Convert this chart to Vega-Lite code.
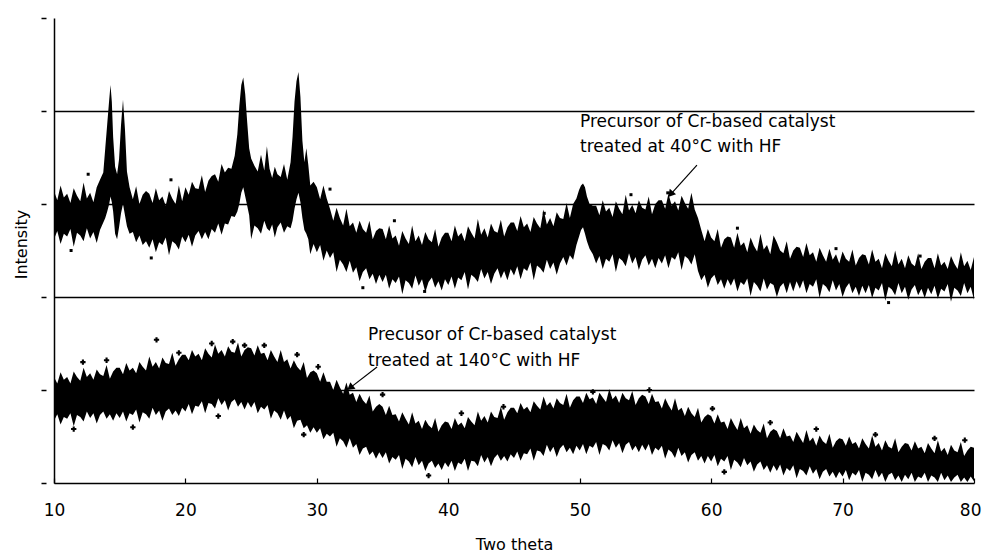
{
  "$schema": "https://vega.github.io/schema/vega-lite/v6.json",
  "width": 920,
  "height": 465,
  "autosize": "none",
  "padding": {"left": 54, "top": 18, "right": 8, "bottom": 72},
  "background": "white",
  "config": {"view": {"stroke": null}, "font": "DejaVu Sans"},
  "datasets": {
    "up": [
      {"x":10.0,"lo":262,"hi":314},{"x":10.25,"lo":271,"hi":304},{"x":10.5,"lo":257,"hi":320},{"x":10.75,"lo":268,"hi":307},
      {"x":11.0,"lo":265,"hi":311},{"x":11.25,"lo":273,"hi":301},{"x":11.5,"lo":254,"hi":317},{"x":11.75,"lo":269,"hi":309},
      {"x":12.0,"lo":266,"hi":303},{"x":12.25,"lo":260,"hi":323},{"x":12.5,"lo":274,"hi":306},{"x":12.75,"lo":263,"hi":312},
      {"x":13.0,"lo":270,"hi":302},{"x":13.25,"lo":258,"hi":318},{"x":13.5,"lo":272,"hi":326},{"x":13.75,"lo":280,"hi":334},
      {"x":13.9,"lo":285,"hi":360},{"x":14.05,"lo":292,"hi":386},{"x":14.2,"lo":300,"hi":412},{"x":14.3,"lo":308,"hi":428},
      {"x":14.4,"lo":302,"hi":410},{"x":14.5,"lo":292,"hi":372},{"x":14.65,"lo":268,"hi":340},{"x":14.8,"lo":262,"hi":332},
      {"x":14.95,"lo":275,"hi":348},{"x":15.1,"lo":290,"hi":385},{"x":15.25,"lo":300,"hi":412},{"x":15.4,"lo":288,"hi":380},
      {"x":15.55,"lo":276,"hi":335},{"x":15.75,"lo":268,"hi":318},{"x":16.0,"lo":270,"hi":305},{"x":16.25,"lo":259,"hi":319},
      {"x":16.5,"lo":266,"hi":300},{"x":16.75,"lo":256,"hi":310},{"x":17.0,"lo":260,"hi":314},{"x":17.25,"lo":253,"hi":311},
      {"x":17.5,"lo":262,"hi":301},{"x":17.75,"lo":248,"hi":317},{"x":18.0,"lo":259,"hi":304},{"x":18.25,"lo":256,"hi":308},
      {"x":18.5,"lo":264,"hi":298},{"x":18.75,"lo":245,"hi":314},{"x":19.0,"lo":260,"hi":306},{"x":19.25,"lo":257,"hi":300},
      {"x":19.5,"lo":251,"hi":320},{"x":19.75,"lo":265,"hi":303},{"x":20.0,"lo":259,"hi":318},{"x":20.25,"lo":267,"hi":310},
      {"x":20.5,"lo":254,"hi":324},{"x":20.75,"lo":266,"hi":317},{"x":21.0,"lo":271,"hi":316},{"x":21.25,"lo":262,"hi":331},
      {"x":21.5,"lo":270,"hi":313},{"x":21.75,"lo":262,"hi":325},{"x":22.0,"lo":273,"hi":330},{"x":22.25,"lo":269,"hi":332},
      {"x":22.5,"lo":279,"hi":324},{"x":22.75,"lo":267,"hi":343},{"x":23.0,"lo":279,"hi":334},{"x":23.25,"lo":278,"hi":339},
      {"x":23.5,"lo":287,"hi":338},{"x":23.75,"lo":286,"hi":352},{"x":23.95,"lo":292,"hi":375},{"x":24.1,"lo":300,"hi":405},
      {"x":24.25,"lo":312,"hi":428},{"x":24.4,"lo":318,"hi":436},{"x":24.55,"lo":308,"hi":418},{"x":24.7,"lo":298,"hi":388},
      {"x":24.85,"lo":288,"hi":360},{"x":25.0,"lo":262,"hi":349},{"x":25.25,"lo":277,"hi":341},{"x":25.5,"lo":274,"hi":335},
      {"x":25.75,"lo":268,"hi":353},{"x":26.0,"lo":282,"hi":336},{"x":26.2,"lo":274,"hi":362},{"x":26.4,"lo":271,"hi":338},
      {"x":26.6,"lo":278,"hi":328},{"x":26.8,"lo":264,"hi":340},{"x":27.0,"lo":275,"hi":332},{"x":27.25,"lo":280,"hi":329},
      {"x":27.5,"lo":269,"hi":343},{"x":27.75,"lo":276,"hi":326},{"x":28.0,"lo":274,"hi":345},{"x":28.15,"lo":282,"hi":372},
      {"x":28.3,"lo":295,"hi":410},{"x":28.45,"lo":305,"hi":432},{"x":28.6,"lo":312,"hi":442},{"x":28.75,"lo":302,"hi":415},
      {"x":28.9,"lo":285,"hi":368},{"x":29.05,"lo":272,"hi":345},{"x":29.2,"lo":268,"hi":360},{"x":29.35,"lo":262,"hi":342},
      {"x":29.5,"lo":246,"hi":320},{"x":29.75,"lo":257,"hi":324},{"x":30.0,"lo":248,"hi":318},{"x":30.25,"lo":256,"hi":305},
      {"x":30.5,"lo":239,"hi":320},{"x":30.75,"lo":250,"hi":306},{"x":31.0,"lo":242,"hi":295},{"x":31.25,"lo":248,"hi":282},
      {"x":31.5,"lo":227,"hi":296},{"x":31.75,"lo":240,"hi":285},{"x":32.0,"lo":235,"hi":277},{"x":32.25,"lo":227,"hi":295},
      {"x":32.5,"lo":239,"hi":276},{"x":32.75,"lo":226,"hi":280},{"x":33.0,"lo":232,"hi":269},{"x":33.25,"lo":217,"hi":282},
      {"x":33.5,"lo":227,"hi":273},{"x":33.75,"lo":231,"hi":269},{"x":34.0,"lo":219,"hi":282},{"x":34.25,"lo":225,"hi":262},
      {"x":34.5,"lo":214,"hi":271},{"x":34.75,"lo":224,"hi":274},{"x":35.0,"lo":216,"hi":273},{"x":35.25,"lo":224,"hi":262},
      {"x":35.5,"lo":209,"hi":277},{"x":35.75,"lo":219,"hi":263},{"x":36.0,"lo":215,"hi":266},{"x":36.25,"lo":222,"hi":255},
      {"x":36.5,"lo":203,"hi":271},{"x":36.75,"lo":218,"hi":263},{"x":37.0,"lo":215,"hi":257},{"x":37.25,"lo":209,"hi":277},
      {"x":37.5,"lo":223,"hi":260},{"x":37.75,"lo":212,"hi":266},{"x":38.0,"lo":219,"hi":256},{"x":38.25,"lo":205,"hi":270},
      {"x":38.5,"lo":216,"hi":262},{"x":38.75,"lo":221,"hi":259},{"x":39.0,"lo":210,"hi":273},{"x":39.25,"lo":217,"hi":254},
      {"x":39.5,"lo":207,"hi":264},{"x":39.75,"lo":219,"hi":269},{"x":40.0,"lo":213,"hi":269},{"x":40.25,"lo":222,"hi":260},
      {"x":40.5,"lo":209,"hi":277},{"x":40.75,"lo":221,"hi":265},{"x":41.0,"lo":218,"hi":269},{"x":41.25,"lo":227,"hi":260},
      {"x":41.5,"lo":208,"hi":276},{"x":41.75,"lo":224,"hi":269},{"x":42.0,"lo":221,"hi":263},{"x":42.25,"lo":216,"hi":284},
      {"x":42.5,"lo":230,"hi":267},{"x":42.75,"lo":220,"hi":274},{"x":43.0,"lo":227,"hi":264},{"x":43.25,"lo":214,"hi":279},
      {"x":43.5,"lo":225,"hi":271},{"x":43.75,"lo":231,"hi":269},{"x":44.0,"lo":220,"hi":283},{"x":44.25,"lo":228,"hi":265},
      {"x":44.5,"lo":218,"hi":275},{"x":44.75,"lo":230,"hi":280},{"x":45.0,"lo":223,"hi":280},{"x":45.25,"lo":233,"hi":271},
      {"x":45.5,"lo":219,"hi":287},{"x":45.75,"lo":231,"hi":275},{"x":46.0,"lo":228,"hi":279},{"x":46.25,"lo":237,"hi":270},
      {"x":46.5,"lo":218,"hi":286},{"x":46.75,"lo":234,"hi":279},{"x":47.0,"lo":231,"hi":274},{"x":47.25,"lo":226,"hi":294},
      {"x":47.5,"lo":240,"hi":278},{"x":47.75,"lo":230,"hi":285},{"x":48.0,"lo":237,"hi":276},{"x":48.25,"lo":224,"hi":291},
      {"x":48.5,"lo":236,"hi":285},{"x":48.75,"lo":243,"hi":284},{"x":49.0,"lo":234,"hi":301},{"x":49.25,"lo":245,"hi":285},
      {"x":49.5,"lo":240,"hi":300},{"x":49.75,"lo":256,"hi":306},{"x":49.95,"lo":265,"hi":315},{"x":50.1,"lo":272,"hi":320},
      {"x":50.25,"lo":275,"hi":322},{"x":50.4,"lo":268,"hi":318},{"x":50.55,"lo":260,"hi":308},{"x":50.75,"lo":252,"hi":300},
      {"x":51.0,"lo":246,"hi":298},{"x":51.25,"lo":236,"hi":298},{"x":51.5,"lo":244,"hi":288},{"x":51.75,"lo":230,"hi":304},
      {"x":52.0,"lo":241,"hi":292},{"x":52.25,"lo":238,"hi":296},{"x":52.5,"lo":246,"hi":286},{"x":52.75,"lo":227,"hi":303},
      {"x":53.0,"lo":242,"hi":295},{"x":53.25,"lo":239,"hi":289},{"x":53.5,"lo":233,"hi":310},{"x":53.75,"lo":247,"hi":293},
      {"x":54.0,"lo":236,"hi":299},{"x":54.25,"lo":243,"hi":290},{"x":54.5,"lo":229,"hi":304},{"x":54.75,"lo":240,"hi":296},
      {"x":55.0,"lo":245,"hi":294},{"x":55.25,"lo":234,"hi":308},{"x":55.5,"lo":241,"hi":289},{"x":55.75,"lo":231,"hi":300},
      {"x":56.0,"lo":242,"hi":304},{"x":56.25,"lo":236,"hi":304},{"x":56.5,"lo":245,"hi":295},{"x":56.75,"lo":231,"hi":311},
      {"x":57.0,"lo":243,"hi":298},{"x":57.25,"lo":240,"hi":303},{"x":57.5,"lo":248,"hi":293},{"x":57.75,"lo":229,"hi":309},
      {"x":58.0,"lo":244,"hi":301},{"x":58.25,"lo":241,"hi":295},{"x":58.5,"lo":235,"hi":312},{"x":58.75,"lo":246,"hi":294},
      {"x":59.0,"lo":228,"hi":285},{"x":59.25,"lo":218,"hi":272},{"x":59.5,"lo":224,"hi":260},{"x":59.75,"lo":210,"hi":273},
      {"x":60.0,"lo":220,"hi":264},{"x":60.25,"lo":224,"hi":260},{"x":60.5,"lo":213,"hi":273},{"x":60.75,"lo":219,"hi":253},
      {"x":61.0,"lo":209,"hi":262},{"x":61.25,"lo":219,"hi":265},{"x":61.5,"lo":212,"hi":264},{"x":61.75,"lo":220,"hi":253},
      {"x":62.0,"lo":206,"hi":269},{"x":62.25,"lo":216,"hi":255},{"x":62.5,"lo":213,"hi":259},{"x":62.75,"lo":220,"hi":248},
      {"x":63.0,"lo":201,"hi":264},{"x":63.25,"lo":216,"hi":255},{"x":63.5,"lo":212,"hi":249},{"x":63.75,"lo":206,"hi":268},
      {"x":64.0,"lo":220,"hi":251},{"x":64.25,"lo":208,"hi":256},{"x":64.5,"lo":215,"hi":246},{"x":64.75,"lo":213,"hi":266},
      {"x":65.0,"lo":200,"hi":259},{"x":65.25,"lo":211,"hi":250},{"x":65.5,"lo":215,"hi":247},{"x":65.75,"lo":204,"hi":260},
      {"x":66.0,"lo":216,"hi":241},{"x":66.25,"lo":206,"hi":250},{"x":66.5,"lo":217,"hi":254},{"x":66.75,"lo":209,"hi":253},
      {"x":67.0,"lo":218,"hi":243},{"x":67.25,"lo":204,"hi":258},{"x":67.5,"lo":214,"hi":245},{"x":67.75,"lo":211,"hi":248},
      {"x":68.0,"lo":219,"hi":238},{"x":68.25,"lo":199,"hi":253},{"x":68.5,"lo":214,"hi":245},{"x":68.75,"lo":211,"hi":238},
      {"x":69.0,"lo":205,"hi":252},{"x":69.25,"lo":218,"hi":240},{"x":69.5,"lo":207,"hi":246},{"x":69.75,"lo":214,"hi":236},
      {"x":70.0,"lo":200,"hi":249},{"x":70.25,"lo":210,"hi":241},{"x":70.5,"lo":215,"hi":238},{"x":70.75,"lo":204,"hi":251},
      {"x":71.0,"lo":211,"hi":234},{"x":71.25,"lo":201,"hi":242},{"x":71.5,"lo":212,"hi":246},{"x":71.75,"lo":204,"hi":245},
      {"x":72.0,"lo":213,"hi":235},{"x":72.25,"lo":199,"hi":251},{"x":72.5,"lo":210,"hi":238},{"x":72.75,"lo":207,"hi":241},
      {"x":73.0,"lo":215,"hi":231},{"x":73.25,"lo":196,"hi":247},{"x":73.5,"lo":211,"hi":239},{"x":73.75,"lo":208,"hi":233},
      {"x":74.0,"lo":202,"hi":250},{"x":74.25,"lo":215,"hi":235},{"x":74.5,"lo":204,"hi":241},{"x":74.75,"lo":211,"hi":231},
      {"x":75.0,"lo":197,"hi":245},{"x":75.25,"lo":208,"hi":236},{"x":75.5,"lo":213,"hi":233},{"x":75.75,"lo":202,"hi":247},
      {"x":76.0,"lo":209,"hi":230},{"x":76.25,"lo":199,"hi":238},{"x":76.5,"lo":210,"hi":242},{"x":76.75,"lo":203,"hi":242},
      {"x":77.0,"lo":212,"hi":231},{"x":77.25,"lo":198,"hi":247},{"x":77.5,"lo":209,"hi":234},{"x":77.75,"lo":206,"hi":238},
      {"x":78.0,"lo":214,"hi":230},{"x":78.25,"lo":195,"hi":244},{"x":78.5,"lo":210,"hi":236},{"x":78.75,"lo":207,"hi":230},
      {"x":79.0,"lo":201,"hi":248},{"x":79.25,"lo":215,"hi":233},{"x":79.5,"lo":204,"hi":239},{"x":79.75,"lo":211,"hi":229},
      {"x":80.0,"lo":197,"hi":243}
    ],
    "low": [
      {"x":10.0,"lo":67,"hi":114},{"x":10.25,"lo":74,"hi":107},{"x":10.5,"lo":63,"hi":119},{"x":10.75,"lo":71,"hi":111},
      {"x":11.0,"lo":69,"hi":114},{"x":11.25,"lo":75,"hi":107},{"x":11.5,"lo":61,"hi":120},{"x":11.75,"lo":73,"hi":114},
      {"x":12.0,"lo":71,"hi":110},{"x":12.25,"lo":66,"hi":124},{"x":12.5,"lo":77,"hi":114},{"x":12.75,"lo":70,"hi":118},
      {"x":13.0,"lo":75,"hi":111},{"x":13.25,"lo":64,"hi":122},{"x":13.5,"lo":73,"hi":117},{"x":13.75,"lo":77,"hi":115},
      {"x":14.0,"lo":69,"hi":127},{"x":14.25,"lo":74,"hi":112},{"x":14.5,"lo":67,"hi":120},{"x":14.75,"lo":75,"hi":124},
      {"x":15.0,"lo":70,"hi":124},{"x":15.25,"lo":77,"hi":117},{"x":15.5,"lo":66,"hi":129},{"x":15.75,"lo":75,"hi":121},
      {"x":16.0,"lo":73,"hi":124},{"x":16.25,"lo":79,"hi":118},{"x":16.5,"lo":65,"hi":130},{"x":16.75,"lo":76,"hi":125},
      {"x":17.0,"lo":74,"hi":121},{"x":17.25,"lo":69,"hi":136},{"x":17.5,"lo":81,"hi":125},{"x":17.75,"lo":73,"hi":130},
      {"x":18.0,"lo":78,"hi":123},{"x":18.25,"lo":67,"hi":135},{"x":18.5,"lo":77,"hi":129},{"x":18.75,"lo":80,"hi":128},
      {"x":19.0,"lo":73,"hi":140},{"x":19.25,"lo":78,"hi":126},{"x":19.5,"lo":72,"hi":133},{"x":19.75,"lo":81,"hi":138},
      {"x":20.0,"lo":77,"hi":138},{"x":20.25,"lo":85,"hi":132},{"x":20.5,"lo":74,"hi":143},{"x":20.75,"lo":83,"hi":136},
      {"x":21.0,"lo":82,"hi":139},{"x":21.25,"lo":88,"hi":132},{"x":21.5,"lo":75,"hi":145},{"x":21.75,"lo":86,"hi":139},
      {"x":22.0,"lo":85,"hi":135},{"x":22.25,"lo":80,"hi":149},{"x":22.5,"lo":91,"hi":139},{"x":22.75,"lo":84,"hi":143},
      {"x":23.0,"lo":89,"hi":136},{"x":23.25,"lo":78,"hi":147},{"x":23.5,"lo":87,"hi":141},{"x":23.75,"lo":90,"hi":140},
      {"x":24.0,"lo":82,"hi":151},{"x":24.25,"lo":87,"hi":136},{"x":24.5,"lo":79,"hi":143},{"x":24.75,"lo":87,"hi":146},
      {"x":25.0,"lo":81,"hi":145},{"x":25.25,"lo":87,"hi":137},{"x":25.5,"lo":75,"hi":148},{"x":25.75,"lo":82,"hi":139},
      {"x":26.0,"lo":79,"hi":140},{"x":26.25,"lo":84,"hi":132},{"x":26.5,"lo":69,"hi":143},{"x":26.75,"lo":78,"hi":136},
      {"x":27.0,"lo":75,"hi":130},{"x":27.25,"lo":68,"hi":143},{"x":27.5,"lo":78,"hi":130},{"x":27.75,"lo":68,"hi":133},
      {"x":28.0,"lo":72,"hi":123},{"x":28.25,"lo":59,"hi":132},{"x":28.5,"lo":67,"hi":125},{"x":28.75,"lo":68,"hi":121},
      {"x":29.0,"lo":59,"hi":130},{"x":29.25,"lo":62,"hi":113},{"x":29.5,"lo":54,"hi":119},{"x":29.75,"lo":60,"hi":121},
      {"x":30.0,"lo":54,"hi":118},{"x":30.25,"lo":59,"hi":109},{"x":30.5,"lo":47,"hi":119},{"x":30.75,"lo":53,"hi":109},
      {"x":31.0,"lo":50,"hi":109},{"x":31.25,"lo":54,"hi":100},{"x":31.5,"lo":39,"hi":111},{"x":31.75,"lo":48,"hi":103},
      {"x":32.0,"lo":45,"hi":96},{"x":32.25,"lo":38,"hi":108},{"x":32.5,"lo":48,"hi":95},{"x":32.75,"lo":38,"hi":97},
      {"x":33.0,"lo":42,"hi":87},{"x":33.25,"lo":30,"hi":96},{"x":33.5,"lo":37,"hi":89},{"x":33.75,"lo":39,"hi":85},
      {"x":34.0,"lo":30,"hi":94},{"x":34.25,"lo":34,"hi":77},{"x":34.5,"lo":26,"hi":82},{"x":34.75,"lo":33,"hi":85},
      {"x":35.0,"lo":27,"hi":82},{"x":35.25,"lo":33,"hi":73},{"x":35.5,"lo":21,"hi":83},{"x":35.75,"lo":28,"hi":73},
      {"x":36.0,"lo":25,"hi":74},{"x":36.25,"lo":30,"hi":66},{"x":36.5,"lo":15,"hi":76},{"x":36.75,"lo":26,"hi":69},
      {"x":37.0,"lo":23,"hi":63},{"x":37.25,"lo":17,"hi":76},{"x":37.5,"lo":28,"hi":64},{"x":37.75,"lo":19,"hi":67},
      {"x":38.0,"lo":24,"hi":58},{"x":38.25,"lo":13,"hi":68},{"x":38.5,"lo":21,"hi":62},{"x":38.75,"lo":24,"hi":59},
      {"x":39.0,"lo":16,"hi":70},{"x":39.25,"lo":21,"hi":55},{"x":39.5,"lo":14,"hi":62},{"x":39.75,"lo":22,"hi":66},
      {"x":40.0,"lo":17,"hi":65},{"x":40.25,"lo":24,"hi":58},{"x":40.5,"lo":13,"hi":70},{"x":40.75,"lo":22,"hi":62},
      {"x":41.0,"lo":20,"hi":65},{"x":41.25,"lo":26,"hi":59},{"x":41.5,"lo":13,"hi":71},{"x":41.75,"lo":24,"hi":66},
      {"x":42.0,"lo":23,"hi":62},{"x":42.25,"lo":18,"hi":77},{"x":42.5,"lo":30,"hi":67},{"x":42.75,"lo":22,"hi":72},
      {"x":43.0,"lo":28,"hi":65},{"x":43.25,"lo":18,"hi":77},{"x":43.5,"lo":27,"hi":71},{"x":43.75,"lo":31,"hi":70},
      {"x":44.0,"lo":24,"hi":82},{"x":44.25,"lo":29,"hi":68},{"x":44.5,"lo":23,"hi":76},{"x":44.75,"lo":31,"hi":81},
      {"x":45.0,"lo":27,"hi":81},{"x":45.25,"lo":34,"hi":75},{"x":45.5,"lo":24,"hi":86},{"x":45.75,"lo":32,"hi":79},
      {"x":46.0,"lo":31,"hi":82},{"x":46.25,"lo":37,"hi":76},{"x":46.5,"lo":24,"hi":88},{"x":46.75,"lo":35,"hi":83},
      {"x":47.0,"lo":34,"hi":79},{"x":47.25,"lo":29,"hi":93},{"x":47.5,"lo":41,"hi":83},{"x":47.75,"lo":33,"hi":87},
      {"x":48.0,"lo":39,"hi":80},{"x":48.25,"lo":28,"hi":91},{"x":48.5,"lo":37,"hi":86},{"x":48.75,"lo":41,"hi":84},
      {"x":49.0,"lo":33,"hi":96},{"x":49.25,"lo":38,"hi":81},{"x":49.5,"lo":31,"hi":89},{"x":49.75,"lo":40,"hi":93},
      {"x":50.0,"lo":35,"hi":93},{"x":50.25,"lo":42,"hi":86},{"x":50.5,"lo":31,"hi":97},{"x":50.75,"lo":40,"hi":90},
      {"x":51.0,"lo":38,"hi":92},{"x":51.25,"lo":44,"hi":85},{"x":51.5,"lo":30,"hi":97},{"x":51.75,"lo":42,"hi":92},
      {"x":52.0,"lo":40,"hi":87},{"x":52.25,"lo":35,"hi":101},{"x":52.5,"lo":46,"hi":90},{"x":52.75,"lo":38,"hi":94},
      {"x":53.0,"lo":43,"hi":86},{"x":53.25,"lo":32,"hi":97},{"x":53.5,"lo":41,"hi":91},{"x":53.75,"lo":44,"hi":89},
      {"x":54.0,"lo":35,"hi":99},{"x":54.25,"lo":40,"hi":84},{"x":54.5,"lo":33,"hi":91},{"x":54.75,"lo":41,"hi":95},
      {"x":55.0,"lo":35,"hi":93},{"x":55.25,"lo":42,"hi":85},{"x":55.5,"lo":30,"hi":96},{"x":55.75,"lo":38,"hi":87},
      {"x":56.0,"lo":35,"hi":88},{"x":56.25,"lo":40,"hi":80},{"x":56.5,"lo":26,"hi":91},{"x":56.75,"lo":36,"hi":84},
      {"x":57.0,"lo":33,"hi":78},{"x":57.25,"lo":27,"hi":91},{"x":57.5,"lo":38,"hi":78},{"x":57.75,"lo":29,"hi":81},
      {"x":58.0,"lo":33,"hi":72},{"x":58.25,"lo":22,"hi":82},{"x":58.5,"lo":30,"hi":75},{"x":58.75,"lo":33,"hi":71},
      {"x":59.0,"lo":24,"hi":81},{"x":59.25,"lo":29,"hi":65},{"x":59.5,"lo":21,"hi":71},{"x":59.75,"lo":29,"hi":74},
      {"x":60.0,"lo":23,"hi":72},{"x":60.25,"lo":30,"hi":64},{"x":60.5,"lo":18,"hi":74},{"x":60.75,"lo":26,"hi":65},
      {"x":61.0,"lo":23,"hi":66},{"x":61.25,"lo":29,"hi":58},{"x":61.5,"lo":14,"hi":70},{"x":61.75,"lo":25,"hi":63},
      {"x":62.0,"lo":22,"hi":57},{"x":62.25,"lo":17,"hi":70},{"x":62.5,"lo":27,"hi":59},{"x":62.75,"lo":19,"hi":62},
      {"x":63.0,"lo":23,"hi":53},{"x":63.25,"lo":12,"hi":63},{"x":63.5,"lo":20,"hi":57},{"x":63.75,"lo":23,"hi":54},
      {"x":64.0,"lo":14,"hi":64},{"x":64.25,"lo":19,"hi":48},{"x":64.5,"lo":11,"hi":55},{"x":64.75,"lo":19,"hi":58},
      {"x":65.0,"lo":13,"hi":56},{"x":65.25,"lo":20,"hi":48},{"x":65.5,"lo":8,"hi":59},{"x":65.75,"lo":16,"hi":50},
      {"x":66.0,"lo":13,"hi":51},{"x":66.25,"lo":19,"hi":44},{"x":66.5,"lo":5,"hi":55},{"x":66.75,"lo":15,"hi":49},
      {"x":67.0,"lo":13,"hi":43},{"x":67.25,"lo":8,"hi":57},{"x":67.5,"lo":18,"hi":45},{"x":67.75,"lo":10,"hi":49},
      {"x":68.0,"lo":15,"hi":40},{"x":68.25,"lo":4,"hi":51},{"x":68.5,"lo":12,"hi":45},{"x":68.75,"lo":15,"hi":42},
      {"x":69.0,"lo":7,"hi":53},{"x":69.25,"lo":12,"hi":38},{"x":69.5,"lo":5,"hi":45},{"x":69.75,"lo":12,"hi":48},
      {"x":70.0,"lo":7,"hi":47},{"x":70.25,"lo":14,"hi":40},{"x":70.5,"lo":3,"hi":50},{"x":70.75,"lo":11,"hi":42},
      {"x":71.0,"lo":8,"hi":44},{"x":71.25,"lo":14,"hi":37},{"x":71.5,"lo":1,"hi":48},{"x":71.75,"lo":11,"hi":42},
      {"x":72.0,"lo":9,"hi":37},{"x":72.25,"lo":4,"hi":51},{"x":72.5,"lo":14,"hi":39},{"x":72.75,"lo":6,"hi":43},
      {"x":73.0,"lo":11,"hi":35},{"x":73.25,"lo":1,"hi":46},{"x":73.5,"lo":9,"hi":39},{"x":73.75,"lo":11,"hi":37},
      {"x":74.0,"lo":3,"hi":48},{"x":74.25,"lo":8,"hi":33},{"x":74.5,"lo":1,"hi":39},{"x":74.75,"lo":9,"hi":43},
      {"x":75.0,"lo":4,"hi":42},{"x":75.25,"lo":11,"hi":35},{"x":75.5,"lo":1,"hi":45},{"x":75.75,"lo":7,"hi":37},
      {"x":76.0,"lo":5,"hi":39},{"x":76.25,"lo":11,"hi":32},{"x":76.5,"lo":1,"hi":43},{"x":76.75,"lo":8,"hi":37},
      {"x":77.0,"lo":6,"hi":32},{"x":77.25,"lo":1,"hi":46},{"x":77.5,"lo":11,"hi":34},{"x":77.75,"lo":3,"hi":38},
      {"x":78.0,"lo":8,"hi":30},{"x":78.25,"lo":1,"hi":41},{"x":78.5,"lo":6,"hi":35},{"x":78.75,"lo":9,"hi":33},
      {"x":79.0,"lo":1,"hi":44},{"x":79.25,"lo":6,"hi":29},{"x":79.5,"lo":1,"hi":35},{"x":79.75,"lo":7,"hi":39},
      {"x":80.0,"lo":2,"hi":38}
    ],
    "uppts": [
      {"x":12.6,"y":332},{"x":18.9,"y":326},{"x":31.0,"y":316},{"x":35.9,"y":282},{"x":47.3,"y":290},
      {"x":53.9,"y":310},{"x":56.7,"y":312},{"x":62.0,"y":274},{"x":69.5,"y":252},{"x":75.9,"y":244},
      {"x":17.4,"y":242},{"x":33.5,"y":210},{"x":38.2,"y":206},{"x":73.5,"y":194},{"x":11.3,"y":250}
    ],
    "lowpts": [
      {"x":12.2,"y":130},{"x":14.0,"y":132},{"x":17.8,"y":154},{"x":19.5,"y":140},{"x":22.0,"y":150},
      {"x":23.6,"y":152},{"x":24.5,"y":148},{"x":26.0,"y":148},{"x":28.5,"y":138},{"x":30.1,"y":125},
      {"x":35.0,"y":95},{"x":41.0,"y":75},{"x":44.2,"y":82},{"x":51.0,"y":98},{"x":55.3,"y":100},
      {"x":60.1,"y":80},{"x":64.5,"y":65},{"x":68.0,"y":58},{"x":72.5,"y":52},{"x":77.0,"y":48},
      {"x":79.3,"y":46},{"x":11.5,"y":58},{"x":16.0,"y":60},{"x":22.5,"y":72},{"x":29.0,"y":52},
      {"x":38.5,"y":8},{"x":61.0,"y":12}
    ],
    "notes": [
      {"x":50.02,"y":382.8,"t":"Precursor of Cr-based catalyst"},
      {"x":50.02,"y":355.9,"t":"treated at 40°C  with HF"},
      {"x":33.89,"y":153.8,"t":"Precusor of Cr-based catalyst"},
      {"x":33.89,"y":125.8,"t":"treated at 140°C with HF"}
    ],
    "arrows": [
      {"x":58.92,"y":341.9,"x2":56.9,"y2":310},
      {"x":34.58,"y":124.7,"x2":32.5,"y2":102}
    ],
    "heads": [
      {"x":56.97,"y":311.5,"a":221},
      {"x":32.6,"y":103.2,"a":232}
    ]
  },
  "layer": [
    {
      "data": {"name": "up"},
      "mark": {"type": "area", "color": "black", "interpolate": "linear", "opacity": 1},
      "encoding": {
        "x": {
          "field": "x", "type": "quantitative",
          "scale": {"domain": [10, 80], "nice": false, "zero": false},
          "axis": {
            "title": "Two theta", "values": [10, 20, 30, 40, 50, 60, 70, 80], "grid": false,
            "domainColor": "black", "domainWidth": 1.5,
            "tickColor": "black", "tickWidth": 1.2, "tickSize": -5,
            "labelFont": "DejaVu Sans", "labelFontSize": 17, "labelColor": "black", "labelPadding": 24, "labelFlush": false,
            "labelAlign": {"condition": {"test": "datum.value == 80", "value": "right"}, "value": "center"},
            "labelOffset": {"condition": {"test": "datum.value == 80", "value": 7}, "value": 0},
            "titleFont": "DejaVu Sans", "titleFontSize": 16, "titleFontWeight": "normal", "titleColor": "black", "titlePadding": 18
          }
        },
        "y": {
          "field": "lo", "type": "quantitative",
          "scale": {"domain": [0, 500], "nice": false, "zero": false},
          "axis": {
            "title": "Intensity", "values": [0, 100, 200, 300, 400, 500], "labels": false,
            "domainColor": "black", "domainWidth": 1.5,
            "tickColor": "black", "tickWidth": 1.5, "tickSize": 13, "tickDash": [0, 8, 5, 30],
            "grid": true, "gridColor": "black", "gridWidth": 1.3,
            "gridOpacity": {"condition": {"test": "datum.value > 0 && datum.value < 500", "value": 1}, "value": 0},
            "titleFont": "DejaVu Sans", "titleFontSize": 16, "titleFontWeight": "normal", "titleColor": "black", "titlePadding": 11, "titleY": 226
          }
        },
        "y2": {"field": "hi"}
      }
    },
    {
      "data": {"name": "low"},
      "mark": {"type": "area", "color": "black", "interpolate": "linear", "opacity": 1},
      "encoding": {
        "x": {"field": "x", "type": "quantitative"},
        "y": {"field": "lo", "type": "quantitative"},
        "y2": {"field": "hi"}
      }
    },
    {
      "data": {"name": "uppts"},
      "mark": {"type": "point", "shape": "square", "filled": true, "color": "black", "size": 9, "opacity": 1},
      "encoding": {
        "x": {"field": "x", "type": "quantitative"},
        "y": {"field": "y", "type": "quantitative"}
      }
    },
    {
      "data": {"name": "lowpts"},
      "mark": {"type": "point", "shape": "cross", "filled": true, "color": "black", "size": 28, "opacity": 1},
      "encoding": {
        "x": {"field": "x", "type": "quantitative"},
        "y": {"field": "y", "type": "quantitative"}
      }
    },
    {
      "data": {"name": "arrows"},
      "mark": {"type": "rule", "color": "black", "strokeWidth": 1.2},
      "encoding": {
        "x": {"field": "x", "type": "quantitative"},
        "y": {"field": "y", "type": "quantitative"},
        "x2": {"field": "x2"},
        "y2": {"field": "y2"}
      }
    },
    {
      "data": {"name": "heads"},
      "mark": {"type": "point", "shape": "triangle", "filled": true, "color": "black", "size": 70, "opacity": 1},
      "encoding": {
        "x": {"field": "x", "type": "quantitative"},
        "y": {"field": "y", "type": "quantitative"},
        "angle": {"field": "a", "type": "quantitative", "scale": null}
      }
    },
    {
      "data": {"name": "notes"},
      "mark": {"type": "text", "align": "left", "baseline": "alphabetic", "font": "DejaVu Sans", "fontSize": 17, "color": "black"},
      "encoding": {
        "x": {"field": "x", "type": "quantitative"},
        "y": {"field": "y", "type": "quantitative"},
        "text": {"field": "t"}
      }
    }
  ]
}
